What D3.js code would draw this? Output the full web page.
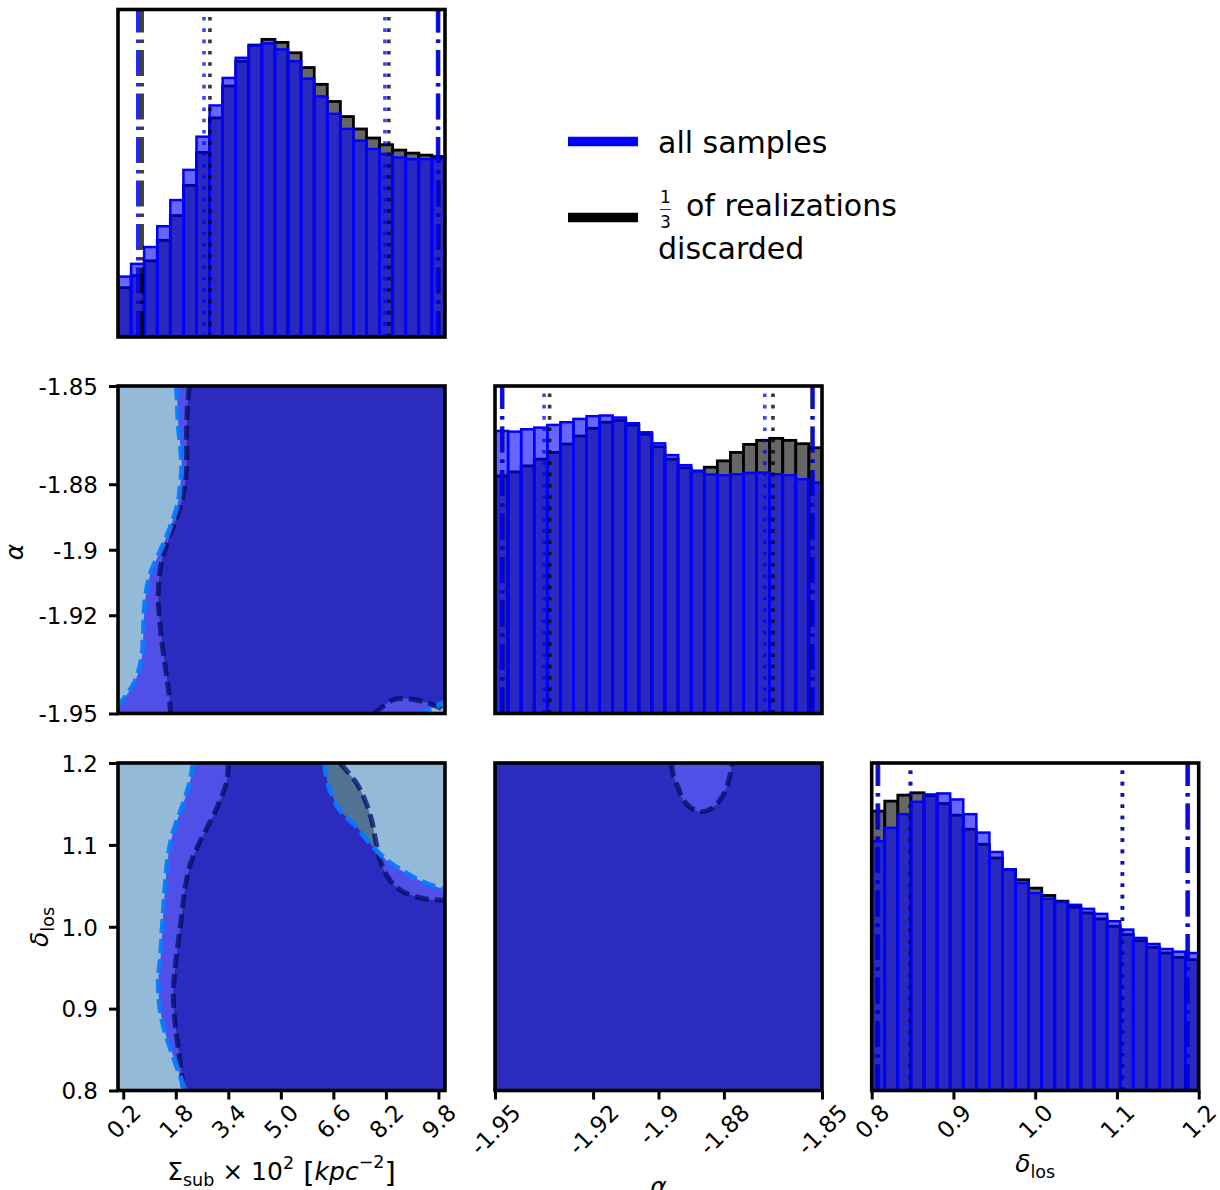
<!DOCTYPE html>
<html>
<head>
<meta charset="utf-8">
<script src="https://cdn.jsdelivr.net/npm/d3@7"></script>
<style>
  body { margin: 0; background: #fff; }
  svg { display: block; font-family: "DejaVu Sans", sans-serif; }
</style>
</head>
<body>
<svg id="corner" width="1220" height="1190"></svg>
<script>
// ---------- parameter ranges and ticks ----------
const sigmaRange = [0.04, 10];
const alphaRange = [-1.95, -1.85];
const deltaRange = [0.8, 1.2];

const sigmaTicks = [0.2, 1.8, 3.4, 5.0, 6.6, 8.2, 9.8];
const sigmaTickLabels = ["0.2", "1.8", "3.4", "5.0", "6.6", "8.2", "9.8"];
const alphaTicks = [-1.95, -1.92, -1.9, -1.88, -1.85];
const alphaTickLabels = ["-1.95", "-1.92", "-1.9", "-1.88", "-1.85"];
const deltaTicks = [0.8, 0.9, 1.0, 1.1, 1.2];
const deltaTickLabels = ["0.8", "0.9", "1.0", "1.1", "1.2"];

// ---------- 1D marginals (25 bins each) ----------
const sigmaCountsAll = [180, 218, 268, 330, 408, 498, 597, 690, 772, 832, 868, 875, 857, 822, 770, 717, 665, 620, 585, 560, 545, 535, 530, 530, 530];
const sigmaCountsCut = [147, 183, 227, 288, 362, 452, 550, 653, 748, 822, 870, 887, 878, 847, 803, 753, 702, 657, 620, 593, 573, 557, 548, 542, 538];
const alphaCountsAll = [842, 840, 847, 852, 860, 868, 878, 886, 888, 882, 865, 838, 805, 770, 740, 722, 712, 710, 713, 717, 718, 713, 710, 698, 688];
const alphaCountsCut = [708, 720, 738, 758, 778, 803, 827, 850, 868, 873, 860, 832, 795, 758, 732, 723, 734, 753, 778, 802, 814, 820, 814, 804, 792];
const deltaCountsAll = [745, 785, 826, 863, 885, 888, 870, 826, 771, 713, 661, 620, 590, 573, 563, 555, 543, 528, 506, 481, 456, 438, 423, 415, 411];
const deltaCountsCut = [835, 865, 883, 890, 881, 858, 823, 781, 736, 695, 660, 630, 605, 583, 566, 548, 531, 513, 491, 466, 448, 428, 411, 398, 391];
const histMax = [976, 976, 979];

// credible-interval markers (dotted: inner, dash-dot: outer)
const sigmaDotAll = [2.66, 8.17], sigmaDashDotAll = [0.65, 9.78];
const sigmaDotCut = [2.84, 8.29], sigmaDashDotCut = [0.77, 9.80];
const alphaDotAll = [-1.935, -1.8675], alphaDashDotAll = [-1.9479, -1.8528];
const alphaDotCut = [-1.9333, -1.865], alphaDashDotCut = [-1.9477, -1.8530];
const deltaDotAll = [0.848, 1.1068], deltaDashDotAll = [0.8081, 1.187];
const deltaDotCut = [0.847, 1.1066], deltaDashDotCut = [0.807, 1.186];

// ---------- 2D contour boundaries [x, y] ----------
// Sigma vs alpha
const sigAlphaAllLeft = [[1.82, -1.85], [1.85, -1.8555], [1.877, -1.8619], [1.95, -1.869], [1.980, -1.8751], [1.93, -1.881], [1.877, -1.8853], [1.624, -1.8934], [1.319, -1.9006], [1.015, -1.9077], [0.862, -1.9158], [0.811, -1.9260], [0.762, -1.9331], [0.558, -1.9402], [0.305, -1.9443], [0.04, -1.9478]];
const sigAlphaAllCorner = [[9.18, -1.95], [9.54, -1.9487], [10.0, -1.9464]];
const sigAlphaCutLeft = [[2.212, -1.85], [2.16, -1.8555], [2.133, -1.8619], [2.111, -1.8772], [1.928, -1.8873], [1.624, -1.8955], [1.371, -1.9036], [1.268, -1.9128], [1.319, -1.9229], [1.441, -1.9331], [1.572, -1.9423], [1.645, -1.95]];
const sigAlphaCutArc = [[7.816, -1.95], [7.920, -1.9494], [8.425, -1.9458], [8.834, -1.9455], [9.339, -1.9463], [9.848, -1.9483], [10.0, -1.949]];

// Sigma vs delta
const sigDeltaAllLeft = [[2.33, 1.2], [2.233, 1.1771], [1.98, 1.1446], [1.724, 1.116], [1.572, 1.0875], [1.472, 1.0467], [1.401, 1.0059], [1.340, 0.9651], [1.268, 0.9325], [1.319, 0.9], [1.472, 0.8714], [1.676, 0.8469], [1.928, 0.8184], [2.08, 0.8]];
const sigDeltaAllArc = [[6.33, 1.2], [6.36, 1.19], [6.497, 1.167], [6.80, 1.1425], [7.31, 1.122], [7.716, 1.1018], [8.224, 1.0813], [8.833, 1.0651], [9.442, 1.0528], [10.0, 1.0455]];
const sigDeltaCutLeft = [[3.40, 1.2], [3.35, 1.1771], [3.046, 1.1446], [2.742, 1.12], [2.437, 1.0956], [2.233, 1.0752], [2.08, 1.0467], [1.98, 1.0141], [1.877, 0.9814], [1.776, 0.9489], [1.724, 0.9162], [1.776, 0.8836], [1.877, 0.851], [1.98, 0.8184], [2.03, 0.8]];
const sigDeltaCutArc = [[6.80, 1.2], [7.31, 1.1752], [7.563, 1.1547], [7.767, 1.1303], [7.868, 1.1098], [8.02, 1.0813], [8.325, 1.0569], [8.730, 1.0426], [9.339, 1.0345], [9.90, 1.0324], [10.0, 1.0322]];

// alpha vs delta
const alphaDeltaCutHole = [[-1.8960, 1.2], [-1.8955, 1.1853], [-1.8939, 1.1691], [-1.8924, 1.1547], [-1.8898, 1.1446], [-1.8868, 1.1404], [-1.8837, 1.1446], [-1.8812, 1.1547], [-1.8791, 1.1710], [-1.8779, 1.1894], [-1.8776, 1.2]];

// ---------- layout ----------
const W = 327, H = 327.5;
const colX = [118, 495, 871.7];
const rowY = [9.5, 386, 763];
const tickFont = 23;

const C = {
  light: "#93bad8", medium: "#5050e8", dark: "#2b2bbf", slate: "#527391",
  blue: "#0000ff", grey: "#666666"
};

const svg = d3.select("#corner");
const defs = svg.append("defs");

const xScale = (range, col) => d3.scaleLinear().domain(range).range([colX[col], colX[col] + W]);
const yScale = (range, row) => d3.scaleLinear().domain(range).range([rowY[row] + H, rowY[row]]);

function panelClip(row, col) {
  const id = `clip-${row}-${col}`;
  defs.append("clipPath").attr("id", id).append("rect")
    .attr("x", colX[col]).attr("y", rowY[row]).attr("width", W).attr("height", H);
  return `url(#${id})`;
}

function frame(row, col) {
  svg.append("rect").attr("x", colX[col]).attr("y", rowY[row])
    .attr("width", W).attr("height", H)
    .attr("fill", "none").attr("stroke", "#000").attr("stroke-width", 3.6);
}

// ---------- diagonal histograms ----------
function histPanel(idx, range, countsAll, countsCut, dotAll, ddAll, dotCut, ddCut) {
  const x = xScale(range, idx);
  const y = d3.scaleLinear().domain([0, histMax[idx]]).range([rowY[idx] + H, rowY[idx]]);
  const nb = countsAll.length;
  const edges = d3.range(nb + 1).map(i => range[0] + i * (range[1] - range[0]) / nb);
  const g = svg.append("g").attr("clip-path", panelClip(idx, idx));

  const bars = (data, cls) => g.selectAll("rect." + cls).data(data).join("rect")
    .attr("class", cls)
    .attr("x", (d, i) => x(edges[i]))
    .attr("width", (d, i) => x(edges[i + 1]) - x(edges[i]))
    .attr("y", d => y(d))
    .attr("height", d => y(0) - y(d));

  bars(countsCut, "cut").attr("fill", C.grey).attr("stroke", "#000").attr("stroke-width", 2.8);
  bars(countsAll, "all").attr("fill", C.blue).attr("fill-opacity", 0.6)
    .attr("stroke", C.blue).attr("stroke-width", 2.5);

  const vlines = (vals, color, op, dash, width) => vals.forEach(v => {
    g.append("line").attr("x1", x(v)).attr("x2", x(v))
      .attr("y1", rowY[idx] + H).attr("y2", rowY[idx])
      .attr("stroke", color).attr("stroke-opacity", op)
      .attr("stroke-width", width).attr("stroke-dasharray", dash);
  });
  vlines(ddCut, "#000", 0.75, "26,7,3.5,7", 4);
  vlines(dotCut, "#000", 0.8, "3.6,7.7", 3.6);
  vlines(ddAll, C.blue, 0.85, "26,7,3.5,7", 4);
  vlines(dotAll, C.blue, 0.75, "3.6,7.7", 3.6);
  frame(idx, idx);
}

// ---------- 2D contour panels ----------
const smooth = d3.line().curve(d3.curveCatmullRom.alpha(0.5));

function regionPath(x, y, segments) {
  // each segment is a list of points; smoothed when flagged as a curve, straight otherwise
  let d = "";
  segments.forEach((seg, k) => {
    const px = seg.pts.map(p => [x(p[0]), y(p[1])]);
    if (seg.curve) {
      const s = smooth(px);
      d += (k === 0) ? s : s.replace(/^M/, "L");
    } else {
      px.forEach((p, i) => { d += ((k === 0 && i === 0) ? "M" : "L") + p[0] + "," + p[1]; });
    }
  });
  return d + "Z";
}

function contourPanel(row, col, xr, yr, allSegs, cutSegs, allLines, cutLines) {
  const x = xScale(xr, col), y = yScale(yr, row);
  const g = svg.append("g").attr("clip-path", panelClip(row, col));
  g.append("rect").attr("x", colX[col]).attr("y", rowY[row]).attr("width", W).attr("height", H)
    .attr("fill", C.light);
  const allD = regionPath(x, y, allSegs);
  const cutD = regionPath(x, y, cutSegs);
  const rid = `all-region-${row}-${col}`;
  defs.append("clipPath").attr("id", rid).append("path").attr("d", allD);
  g.append("path").attr("d", allD).attr("fill", C.medium);
  g.append("path").attr("d", cutD).attr("fill", C.slate);
  g.append("path").attr("d", cutD).attr("fill", C.dark).attr("clip-path", `url(#${rid})`);

  cutLines.forEach(pts => g.append("path")
    .attr("d", smooth(pts.map(p => [x(p[0]), y(p[1])])))
    .attr("fill", "none").attr("stroke", "#000a60").attr("stroke-opacity", 0.72)
    .attr("stroke-width", 5).attr("stroke-dasharray", "14,6"));
  allLines.forEach(pts => g.append("path")
    .attr("d", smooth(pts.map(p => [x(p[0]), y(p[1])])))
    .attr("fill", "none").attr("stroke", "#0a78ff").attr("stroke-opacity", 0.95)
    .attr("stroke-width", 5).attr("stroke-dasharray", "14,6"));
  frame(row, col);
}

// ---------- axes ----------
function bottomAxis(col, range, ticks, labels) {
  const x = xScale(range, col);
  const g = svg.append("g").attr("transform", `translate(0,${rowY[2] + H})`)
    .call(d3.axisBottom(x).tickValues(ticks).tickFormat((d, i) => labels[i]).tickSize(9).tickPadding(4));
  g.select(".domain").remove();
  g.selectAll(".tick line").attr("stroke", "#000").attr("stroke-width", 3);
  g.selectAll(".tick text").attr("font-size", tickFont).attr("fill", "#000")
    .attr("font-family", "DejaVu Sans")
    .each(function () {
      const t = d3.select(this);
      const w = this.getComputedTextLength();
      const half = (w + tickFont * 0.75) * Math.SQRT1_2 / 2;
      t.attr("y", null).attr("dy", null).attr("text-anchor", "middle")
        .attr("dominant-baseline", "central")
        .attr("transform", `translate(0,${12 + half}) rotate(-45)`);
    });
}

function leftAxis(row, range, ticks, labels) {
  const y = yScale(range, row);
  const g = svg.append("g").attr("transform", `translate(${colX[0]},0)`)
    .call(d3.axisLeft(y).tickValues(ticks).tickFormat((d, i) => labels[i]).tickSize(9).tickPadding(11));
  g.select(".domain").remove();
  g.selectAll(".tick line").attr("stroke", "#000").attr("stroke-width", 3);
  g.selectAll(".tick text").attr("font-size", tickFont).attr("fill", "#000")
    .attr("font-family", "DejaVu Sans").attr("dy", "0.36em");
}

// ---------- draw ----------
histPanel(0, sigmaRange, sigmaCountsAll, sigmaCountsCut, sigmaDotAll, sigmaDashDotAll, sigmaDotCut, sigmaDashDotCut);
histPanel(1, alphaRange, alphaCountsAll, alphaCountsCut, alphaDotAll, alphaDashDotAll, alphaDotCut, alphaDashDotCut);
histPanel(2, deltaRange, deltaCountsAll, deltaCountsCut, deltaDotAll, deltaDashDotAll, deltaDotCut, deltaDashDotCut);

// Sigma – alpha
contourPanel(1, 0, sigmaRange, alphaRange,
  [{ curve: true, pts: sigAlphaAllLeft }, { pts: [[sigmaRange[0], alphaRange[0]]] },
   { curve: true, pts: sigAlphaAllCorner }, { pts: [[sigmaRange[1], alphaRange[1]]] }],
  [{ curve: true, pts: sigAlphaCutLeft }, { curve: true, pts: sigAlphaCutArc },
   { pts: [[sigmaRange[1], alphaRange[1]]] }],
  [sigAlphaAllLeft, sigAlphaAllCorner], [sigAlphaCutLeft, sigAlphaCutArc]);

// Sigma – delta
contourPanel(2, 0, sigmaRange, deltaRange,
  [{ curve: true, pts: sigDeltaAllLeft }, { pts: [[sigmaRange[1], deltaRange[0]]] },
   { curve: true, pts: sigDeltaAllArc.slice().reverse() }],
  [{ curve: true, pts: sigDeltaCutLeft }, { pts: [[sigmaRange[1], deltaRange[0]]] },
   { curve: true, pts: sigDeltaCutArc.slice().reverse() }],
  [sigDeltaAllLeft, sigDeltaAllArc], [sigDeltaCutLeft, sigDeltaCutArc]);

// alpha – delta
contourPanel(2, 1, alphaRange, deltaRange,
  [{ pts: [[alphaRange[0], deltaRange[1]], [alphaRange[1], deltaRange[1]], [alphaRange[1], deltaRange[0]], [alphaRange[0], deltaRange[0]]] }],
  [{ curve: true, pts: alphaDeltaCutHole },
   { pts: [[alphaRange[1], deltaRange[1]], [alphaRange[1], deltaRange[0]], [alphaRange[0], deltaRange[0]], [alphaRange[0], deltaRange[1]]] }],
  [], [alphaDeltaCutHole]);

bottomAxis(0, sigmaRange, sigmaTicks, sigmaTickLabels);
bottomAxis(1, alphaRange, alphaTicks, alphaTickLabels);
bottomAxis(2, deltaRange, deltaTicks, deltaTickLabels);
leftAxis(1, alphaRange, alphaTicks, alphaTickLabels);
leftAxis(2, deltaRange, deltaTicks, deltaTickLabels);

// ---------- axis titles ----------
const LF = 25, SF = 17.5;
const sigLabel = svg.append("text").attr("x", colX[0] + W / 2).attr("y", 1180)
  .attr("text-anchor", "middle").attr("font-size", LF);
sigLabel.append("tspan").text("Σ");
sigLabel.append("tspan").attr("font-size", SF).attr("dy", 6).text("sub");
sigLabel.append("tspan").attr("dy", -6).text(" × 10");
sigLabel.append("tspan").attr("font-size", SF).attr("dy", -11).text("2");
sigLabel.append("tspan").attr("font-size", 29).attr("dy", 14).text(" [");
sigLabel.append("tspan").attr("font-style", "italic").attr("dy", -3).text("kpc");
sigLabel.append("tspan").attr("font-size", SF).attr("dy", -12).text("−2");
sigLabel.append("tspan").attr("font-size", 29).attr("dy", 15).text("]");

svg.append("text").attr("x", colX[1] + W / 2).attr("y", 1195).attr("text-anchor", "middle")
  .attr("font-size", LF).attr("font-style", "italic").text("α");

const dLabel = svg.append("text").attr("x", colX[2] + W / 2).attr("y", 1172)
  .attr("text-anchor", "middle").attr("font-size", LF);
dLabel.append("tspan").attr("font-style", "italic").text("δ");
dLabel.append("tspan").attr("font-size", SF).attr("dy", 6).text("los");

svg.append("text").attr("transform", "translate(23,552) rotate(-90)").attr("text-anchor", "middle")
  .attr("font-size", LF).attr("font-style", "italic").text("α");

const dyLabel = svg.append("text").attr("transform", "translate(48,927) rotate(-90)")
  .attr("text-anchor", "middle").attr("font-size", LF);
dyLabel.append("tspan").attr("font-style", "italic").text("δ");
dyLabel.append("tspan").attr("font-size", SF).attr("dy", 6).text("los");

// ---------- legend ----------
const legend = svg.append("g");
legend.append("line").attr("x1", 568).attr("x2", 638).attr("y1", 141.5).attr("y2", 141.5)
  .attr("stroke", C.blue).attr("stroke-width", 9.3);
legend.append("text").attr("x", 658).attr("y", 152.5).attr("font-size", 30).text("all samples");
legend.append("line").attr("x1", 568).attr("x2", 638).attr("y1", 217.5).attr("y2", 217.5)
  .attr("stroke", "#000").attr("stroke-width", 9.3);
legend.append("text").attr("x", 665.5).attr("y", 203).attr("font-size", 17).attr("text-anchor", "middle").text("1");
legend.append("text").attr("x", 665.5).attr("y", 228).attr("font-size", 17).attr("text-anchor", "middle").text("3");
legend.append("line").attr("x1", 660).attr("x2", 671).attr("y1", 209.5).attr("y2", 209.5)
  .attr("stroke", "#000").attr("stroke-width", 0.8);
legend.append("text").attr("x", 686).attr("y", 216).attr("font-size", 30).text("of realizations");
legend.append("text").attr("x", 658).attr("y", 258.5).attr("font-size", 30).text("discarded");
</script>
</body>
</html>
